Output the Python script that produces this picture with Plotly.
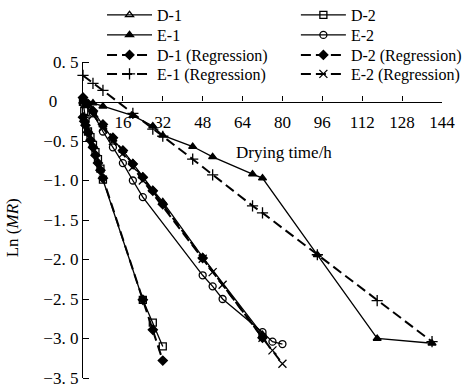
import plotly.graph_objects as go

# ---- data ----
d1_t = [0, 2, 4, 8, 12, 16, 20, 24, 28, 32, 48, 72]
d1_y = [0.0, -0.05, -0.12, -0.30, -0.48, -0.62, -0.78, -0.95, -1.12, -1.27, -1.97, -2.95]
d1r_y = [0.05, -0.03, -0.12, -0.29, -0.46, -0.62, -0.79, -0.96, -1.13, -1.30, -1.98, -2.99]

d2_t = [0, 0.5, 1, 2, 3, 4, 5, 6, 7, 8, 24, 28, 32]
d2_y = [0.0, -0.12, -0.22, -0.38, -0.45, -0.55, -0.64, -0.73, -0.85, -0.99, -2.51, -2.80, -3.10]
d2r_y = [-0.20, -0.25, -0.30, -0.39, -0.49, -0.58, -0.68, -0.78, -0.87, -0.97, -2.51, -2.89, -3.28]

e1_t = [0, 4, 8, 20, 28, 32, 44, 52, 68, 72, 94, 118, 140]
e1_y = [0.0, -0.02, -0.06, -0.18, -0.31, -0.43, -0.57, -0.70, -0.92, -0.97, -1.94, -3.00, -3.06]
e1r_y = [0.33, 0.23, 0.14, -0.15, -0.35, -0.44, -0.73, -0.93, -1.32, -1.41, -1.94, -2.52, -3.04]

e2_t = [0, 4, 8, 12, 16, 20, 24, 48, 52, 56, 72, 76, 80]
e2_y = [-0.02, -0.15, -0.38, -0.58, -0.78, -1.00, -1.21, -2.20, -2.34, -2.50, -2.92, -3.04, -3.07]
e2r_y = [0.0, -0.17, -0.33, -0.50, -0.66, -0.83, -1.00, -1.99, -2.16, -2.32, -2.99, -3.15, -3.32]

x_ticks = [16, 32, 48, 64, 80, 96, 112, 128, 144]
y_ticks = [0.5, 0, -0.5, -1.0, -1.5, -2.0, -2.5, -3.0, -3.5]
y_ticktext = ["0. 5", "0" + "\u00a0" * 5, "\u22120. 5", "\u22121. 0", "\u22121. 5", "\u22122. 0",
              "\u22122. 5", "\u22123. 0", "\u22123. 5"]

FONT = "Liberation Serif"
FS = 17
LFS = 16
fig = go.Figure()

# legend rows (pixel centre) and column positions
row_px = [15, 35, 55, 74]
col_x = [0.053, 0.593]
TOP, BOT = 62, 10
H = 388
PLOT_H = H - TOP - BOT


def py2paper(py):
    return (H - BOT - py) / PLOT_H


legend_defs = {}


def add(name, t, y, symbol, dash, col, row, size=7, width=1.3):
    key = f"legend{col * 4 + row + 2}"
    fig.add_trace(go.Scatter(
        x=t, y=y, name=name, mode="lines+markers",
        line=dict(color="black", width=width, dash=dash),
        marker=dict(symbol=symbol, size=size, color="black",
                    line=dict(color="black", width=1.3)),
        cliponaxis=False, legend=key, showlegend=True))
    legend_defs[key] = dict(x=col_x[col], y=py2paper(row_px[row]),
                            xanchor="left", yanchor="middle", itemwidth=45,
                            bgcolor="rgba(0,0,0,0)",
                            font=dict(family=FONT, size=LFS, color="black"))


DASH = "10px,5px"
add("D-1", d1_t, d1_y, "triangle-up-open", "solid", 0, 0)
add("E-1", e1_t, e1_y, "triangle-up", "solid", 0, 1)
add("D-1 (Regression)", d1_t, d1r_y, "diamond", DASH, 0, 2, 7, 2)
add("E-1 (Regression)", e1_t, e1r_y, "cross-thin-open", DASH, 0, 3, 8, 2)
add("D-2", d2_t, d2_y, "square-open", "solid", 1, 0)
add("E-2", e2_t, e2_y, "circle-open", "solid", 1, 1)
add("D-2 (Regression)", d2_t, d2r_y, "diamond", DASH, 1, 2, 7, 2)
add("E-2 (Regression)", e2_t, e2r_y, "x-thin-open", DASH, 1, 3, 8, 2)

fig.update_layout(
    width=465, height=H,
    margin=dict(l=83, r=23, t=TOP, b=BOT, autoexpand=False),
    paper_bgcolor="white", plot_bgcolor="white",
    showlegend=True,
    font=dict(family=FONT, size=FS, color="black"),
    xaxis=dict(range=[0, 144], tickvals=x_ticks, ticks="inside", ticklen=5,
               tickcolor="black", showline=True, linecolor="black", linewidth=1.3,
               showgrid=False, zeroline=False, anchor="free", position=0.875,
               side="bottom", ticklabelstandoff=5,
               tickfont=dict(family=FONT, size=FS, color="black")),
    yaxis=dict(range=[-3.5, 0.5], tickvals=y_ticks, ticktext=y_ticktext,
               ticks="", showline=True,
               linecolor="black", linewidth=1.3, showgrid=False, zeroline=False,
               ticklabelstandoff=0, ticklabeloverflow="allow",
               minor=dict(tickmode="array", tickvals=y_ticks, ticks="inside",
                          ticklen=6, tickcolor="black", tickwidth=1.3, showgrid=False),
               tickfont=dict(family=FONT, size=FS, color="black")),
    annotations=[
        dict(text="Drying time/h", x=80.5, y=-0.65, xref="x", yref="y",
             showarrow=False, font=dict(family=FONT, size=FS, color="black")),
        dict(text="Ln (<i>MR</i>)", x=-0.197, y=py2paper(228), xref="paper", yref="paper",
             xanchor="center", yanchor="middle",
             textangle=-90, showarrow=False,
             font=dict(family=FONT, size=FS, color="black")),
    ],
)
fig.update_layout(**legend_defs)
fig.write_html("out.html")
